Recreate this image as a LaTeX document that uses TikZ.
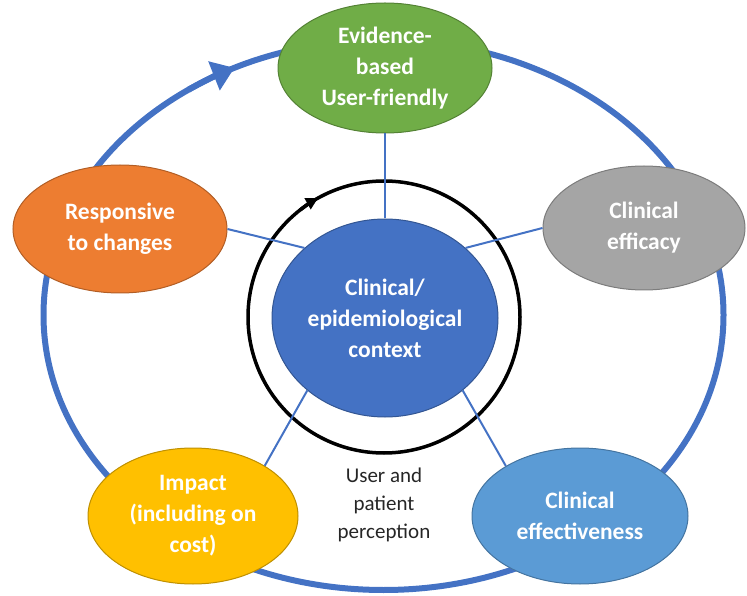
\documentclass[tikz,border=0pt]{standalone}
\usepackage{fontspec}
\setmainfont{Carlito}
\usetikzlibrary{shapes.geometric,arrows.meta}
\definecolor{ringblue}{HTML}{4472C4}
\definecolor{evgreen}{HTML}{70AD47}
\definecolor{rsorange}{HTML}{ED7D31}
\definecolor{efgray}{HTML}{A5A5A5}
\definecolor{imyellow}{HTML}{FFC000}
\definecolor{cectblue}{HTML}{5B9BD5}

\begin{document}
\begin{tikzpicture}[x=1pt,y=1pt,
  bubble/.style={ellipse,draw=#1!75!black,fill=#1,line width=1pt,inner sep=0pt,
    text=white,align=center,font=\bfseries\fontsize{23.5}{31}\selectfont},
  ring/.style={draw=ringblue,line width=6pt},
  spoke/.style={draw=ringblue,line width=2pt},
  loopline/.style={draw=black,line width=3.5pt}]
\useasboundingbox (0,0) rectangle (747,595);
\def\rx{340}
\def\ry{275}
\coordinate (o) at (383.5,280);
\coordinate (m) at (384,278);
\draw[ring] (o) ellipse [x radius=\rx,y radius=\ry];
\draw[ring,-{Triangle[length=22,width=30]}] (o) ++(125:\rx pt and \ry pt)
  arc[start angle=125,end angle=116,x radius=\rx,y radius=\ry];
\draw[loopline] (m) circle [radius=136];
\draw[loopline,-{Triangle[length=12,width=12]}] (m) ++(128:136)
  arc[start angle=128,end angle=119,radius=136];
\node[bubble=ringblue,minimum width=226,minimum height=198] (ctx) at (385,277)
  {Clinical/\\epidemiological\\context};
\node[bubble=evgreen,minimum width=214,minimum height=130] (evid) at (385,527)
  {Evidence-\\based\\User-friendly};
\node[bubble=rsorange,minimum width=214,minimum height=128] (resp) at (120,366)
  {Responsive\\to changes};
\node[bubble=efgray,minimum width=202,minimum height=124] (effi) at (644,367)
  {Clinical\\efficacy};
\node[bubble=imyellow,minimum width=210,minimum height=136] (impa) at (193,79)
  {Impact\\(including on\\cost)};
\node[bubble=cectblue,minimum width=216,minimum height=136] (effe) at (580,79)
  {Clinical\\effectiveness};
\foreach \u/\v in {ctx.90/evid.south,ctx.139/resp.east,ctx.41/effi.west,
  ctx.223/impa.35,ctx.317/effe.146}
  \draw[spoke] (\u) -- (\v);
\node[align=center,text=black!85,font=\fontsize{21}{28}\selectfont] (perc) at (384,90)
  {User and\\patient\\perception};
\end{tikzpicture}
\end{document}
